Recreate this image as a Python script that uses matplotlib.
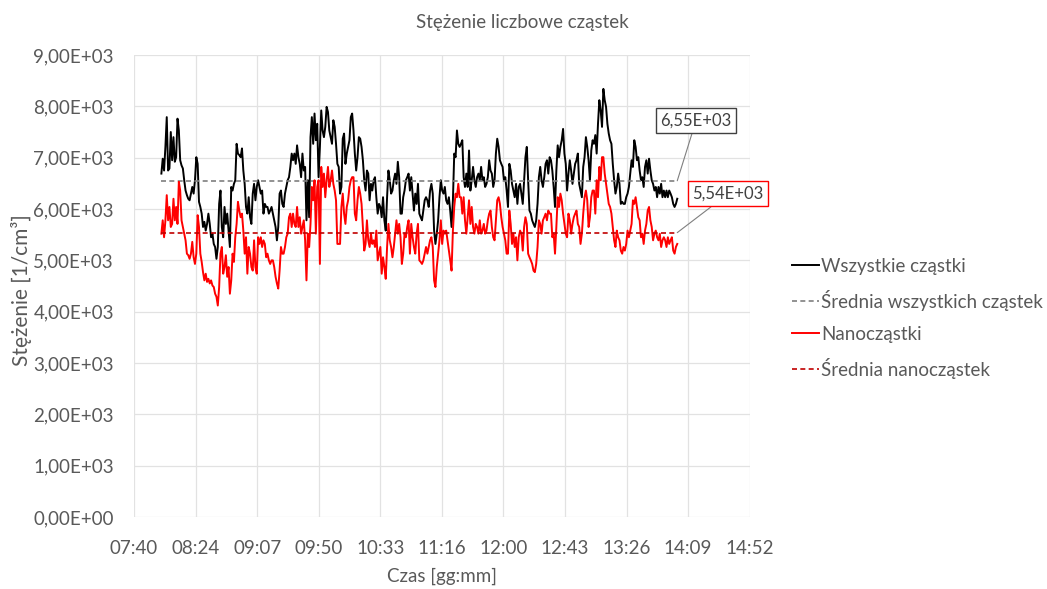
import numpy as np
import matplotlib
matplotlib.use('Agg')
from matplotlib import pyplot as plt

# Dane (cząstki / cm3), pomiar co ok. 1 min
start_time = '08:00'
end_time = '14:02'

all_particles = [
    6690, 6980, 6750, 7210, 7790, 6750, 6790, 7500, 6950, 7400, 6920, 7010, 7760, 7530, 6950, 6850,
    6790, 6560, 6360, 6270, 6200, 6170, 6300, 6430, 6300, 6560, 7010, 6880, 6140, 6040, 5910, 5650,
    5750, 5580, 5710, 5910, 5710, 5450, 5520, 5320, 5260, 5030, 5260, 6100, 6360, 5650, 5450, 6040,
    5710, 5910, 5580, 5260, 6430, 6360, 6490, 6560, 7270, 7080,
    7050, 7010, 7180, 6750, 6490, 6040, 5910, 6230, 5840, 5710, 6300, 6490, 6170, 6430, 6560, 6430,
    6300, 6360, 5910, 6100, 6040, 6040, 5910, 5970, 6040, 5910, 5780, 5650, 5390, 5650, 6300, 6360,
    6100, 6040, 6300, 6430, 6560, 6620, 6820, 7080, 6950, 7080, 6880, 7240, 7010, 6880, 6620, 7080,
    6750, 6820, 5780, 6560, 5840, 7400, 7790, 7270, 7860, 7340, 7660, 6620, 7210, 7920, 7530, 7400,
    7600, 7990, 7890,
    7530, 7400, 7270, 7730, 7600, 7270, 6880, 6820, 6300, 6430, 7370, 7470, 6880, 7080, 7210, 7340,
    7790, 7860, 7530, 7080, 6750, 7010, 7400, 7370, 7210, 6950, 6560, 6360, 6750, 6690, 6170, 6490,
    6360, 6560, 6620, 6230, 5910, 6100, 6040, 5840, 6230, 5780, 5580, 6230, 6750, 6560, 6300, 6360,
    6560, 6690, 6490, 6920, 6620, 5910, 5910, 6230, 6360, 6560, 6620, 6690, 6360, 6620, 6300, 5970,
    6300, 6100, 6490,
    5910, 5840, 5780, 5970, 6170, 6230, 6170, 6040, 6360, 6490, 6300, 5580, 5320, 5520, 5780, 6230,
    6560, 6360, 6300, 6430, 6170, 6100, 6230, 5970, 5650, 6170, 7080, 7010, 7530, 7270, 7210, 7270,
    7340, 6620, 6430, 6690, 6430, 7140, 6360, 6560, 6820, 6560, 6430, 6620, 6690, 6560, 6820, 6560,
    6620, 6430, 6490, 6620, 6950, 6750, 6690, 6430, 6560, 7080, 7370, 7210, 6950, 6880, 6820, 6560,
    6620, 6360, 6040,
    6880, 6750, 6490, 6360, 6230, 6490, 6100, 6430, 6490, 6300, 6100, 6560, 7010, 7210, 6560, 5970,
    5910, 5780, 5710, 5650, 5780, 6100, 6620, 6820, 6560, 6430, 6620, 6880, 6950, 6690, 7010, 6950,
    6750, 6430, 6040, 6750, 7240, 7010, 7210, 7340, 7560, 7080, 6880, 6360, 6690, 6950, 6750, 6490,
    6690, 6880, 6950, 7080, 6490, 6360, 6230, 6820, 7010, 7400, 7210, 6950, 6560, 7140, 7340, 7270,
    7440, 7080, 7660,
    8120, 7920, 7600, 8340, 8120, 7990, 7660, 7470, 7340, 7270, 6880, 6560, 6300, 6430, 6690, 6490,
    6100, 6140, 6100, 6100, 6230, 6300, 6430, 6690, 6950, 6820, 7340, 7210, 6950, 7010, 6750, 6560,
    6620, 6430, 6820, 6950, 6690, 6980, 6750, 6560, 6490, 6360, 6430, 6230, 6430, 6300, 6490, 6230,
    6360, 6230, 6360, 6230, 6360, 6300, 6230, 6100, 6040, 6100, 6200,
]

nano_particles = [
    5520, 5780, 5450, 5780, 6270, 5780, 6040, 5650, 5710, 6200, 5780, 6040, 5710, 6530, 6360, 5780,
    5650, 5520, 5390, 5130, 5100, 5030, 5130, 5360, 5060, 4930, 5130, 5880, 5650, 5130, 4970, 4770,
    4610, 4740, 4580, 4640, 4550, 4610, 4510, 4480, 4350, 4290, 4120, 4480, 5130, 5260, 4740, 4870,
    5100, 4680, 4870, 4350, 4610, 5130, 4970, 5450, 5710, 6140,
    5970, 5840, 5910, 5580, 5130, 5450, 4740, 5260, 5130, 4870, 4800, 5390, 4870, 4740, 5450, 5320,
    5450, 5260, 5390, 5320, 5060, 5130, 5000, 4930, 5000, 5000, 4870, 4680, 4550, 4450, 4800, 5260,
    5130, 5130, 5260, 5450, 5520, 5840, 5910, 5650, 5910, 5710, 5650, 6040, 5650, 5840, 5520, 5650,
    5780, 5390, 4610, 5520, 5260, 5710, 6430, 6170, 6560, 5520, 6430, 6560, 4930, 6820, 6430, 6690,
    6230, 6560, 6820,
    6430, 6560, 6750, 6490, 6360, 6170, 5320, 5320, 5320, 6040, 6300, 5910, 5710, 6040, 6170, 6430,
    6560, 6620, 6620, 5910, 5780, 6170, 6430, 6300, 6100, 5650, 5190, 5320, 5780, 5390, 5260, 5520,
    5320, 5390, 5260, 5580, 5000, 5130, 5260, 4740, 5060, 4870, 4640, 5260, 5710, 5390, 5260, 5060,
    5260, 5520, 5780, 5520, 5710, 5450, 4930, 5130, 5520, 5450, 5650, 5780, 5130, 5710, 5450, 5260,
    5130, 5520, 5710,
    5000, 4970, 4930, 5000, 5130, 5260, 5130, 5260, 5390, 5450, 5260, 4610, 4480, 4870, 5130, 5390,
    5780, 5320, 5580, 5520, 5580, 5390, 5190, 5000, 4800, 5580, 6040, 6300, 6230, 6490, 6230, 6230,
    5910, 6230, 5780, 5520, 5840, 6170, 5710, 6040, 5650, 5520, 5710, 5650, 5520, 5780, 5520, 5580,
    5710, 5520, 5580, 5780, 5910, 5970, 5650, 5450, 5390, 5780, 6170, 6230, 6100, 5840, 5650, 5520,
    5390, 5130, 5130,
    5970, 5710, 5320, 5520, 5260, 5450, 5000, 5450, 5580, 5520, 5190, 5650, 5840, 5710, 5130, 5060,
    5000, 4930, 4800, 4770, 4930, 5260, 5780, 5710, 5520, 5780, 5840, 5910, 5780, 5970, 5910, 5910,
    5450, 5520, 5130, 5650, 6230, 6040, 6300, 6170, 5910, 5710, 5520, 5450, 5910, 5780, 5520, 5710,
    5840, 5910, 5970, 5710, 5650, 5320, 5520, 5910, 6230, 6360, 6170, 5650, 5840, 6230, 6360, 6360,
    5910, 6560, 6230,
    6820, 6560, 7010, 7010, 6690, 6490, 6300, 6100, 6040, 5910, 5650, 5390, 5260, 5580, 5450, 5390,
    5190, 5130, 5260, 5190, 5320, 5580, 5450, 5580, 5710, 6170, 6100, 6230, 6040, 5840, 5780, 5450,
    5520, 5320, 5580, 5710, 5970, 6040, 5780, 5650, 5390, 5520, 5580, 5450, 5390, 5520, 5260, 5390,
    5450, 5390, 5260, 5450, 5320, 5390, 5450, 5190, 5130, 5260, 5320,
]

mean_all = 6550
mean_nano = 5540

tick_labels = ['07:40', '08:24', '09:07', '09:50', '10:33', '11:16',
               '12:00', '12:43', '13:26', '14:09', '14:52']
series_labels = ['Wszystkie cząstki', 'Średnia wszystkich cząstek',
                 'Nanocząstki', 'Średnia nanocząstek']


def to_day(hhmm):
    h, m = hhmm.split(':')
    return (int(h) * 60 + int(m)) / 1440.0


times = np.linspace(to_day(start_time), to_day(end_time), len(all_particles))

plt.rcParams['font.family'] = ['Lato', 'DejaVu Sans']
txt = '#595959'
fs = 13.5

fig = plt.figure(figsize=(10.47, 5.89), dpi=100)
ax = fig.add_axes([0.128, 0.1222, 0.716 - 0.128, 0.9066 - 0.1222])

ax.plot(times, all_particles, color='black', lw=1.4, label=series_labels[0])
ax.plot([times[0], times[-1]], [mean_all, mean_all], color='#7f7f7f', lw=1.2,
        dashes=(3, 2), label=series_labels[1])
ax.plot(times, nano_particles, color='#ff0000', lw=1.4, label=series_labels[2])
ax.plot([times[0], times[-1]], [mean_nano, mean_nano], color='#c00000', lw=1.2,
        dashes=(3, 2), label=series_labels[3])

ax.set_xlim(0.32, 0.62)
ax.set_ylim(0, 9000)
ax.set_xticks([0.32 + 0.03 * i for i in range(len(tick_labels))])
ax.set_xticklabels(tick_labels)
ax.set_yticks(range(0, 9001, 1000))
ax.set_yticklabels([f'{v:.2E}'.replace('.', ',') for v in range(0, 9001, 1000)])
ax.tick_params(length=0, labelsize=fs, colors=txt)
ax.tick_params(axis='y', pad=14.5)
ax.tick_params(axis='x', pad=16.5)
ax.grid(True, color='#e2e2e2', lw=0.9)
ax.set_axisbelow(True)
for s in ax.spines.values():
    s.set_visible(False)

# etykiety wartości średnich
ax.annotate(f'{mean_all / 1000:.2f}E+03'.replace('.', ','),
            xy=(times[-1], mean_all), xytext=(0.5938, 7715),
            ha='center', va='center', fontsize=12, color='#404040',
            bbox=dict(boxstyle='square,pad=0.27', fc='white', ec='#404040', lw=1),
            arrowprops=dict(arrowstyle='-', color='#7f7f7f', lw=0.8,
                            shrinkA=0, shrinkB=0))
ax.annotate(f'{mean_nano / 1000:.2f}E+03'.replace('.', ','),
            xy=(times[-1], mean_nano), xytext=(0.6094, 6293),
            ha='center', va='center', fontsize=12, color='#404040',
            bbox=dict(boxstyle='square,pad=0.27', fc='white', ec='#ff0000', lw=1),
            arrowprops=dict(arrowstyle='-', color='#7f7f7f', lw=0.8,
                            shrinkA=0, shrinkB=0), annotation_clip=False)

fig.text(0.499, 0.962, 'Stężenie liczbowe cząstek', ha='center', va='center',
         fontsize=fs, color=txt)
fig.text(442 / 1047, 1 - 576 / 589, 'Czas [gg:mm]', ha='center', va='center',
         fontsize=fs, color=txt)
fig.text(22 / 1047, 1 - 290 / 589, 'Stężenie [1/cm³]', ha='center', va='center',
         rotation=90, fontsize=15, color=txt)

leg = ax.legend(loc='upper left', bbox_to_anchor=(0.7565, 0.562),
                bbox_transform=fig.transFigure, frameon=False, fontsize=fs,
                handlelength=1.45, handletextpad=0.1, labelspacing=0.8,
                borderpad=0, borderaxespad=0)
for t in leg.get_texts():
    t.set_color(txt)

fig.savefig('out.png', dpi=100)
